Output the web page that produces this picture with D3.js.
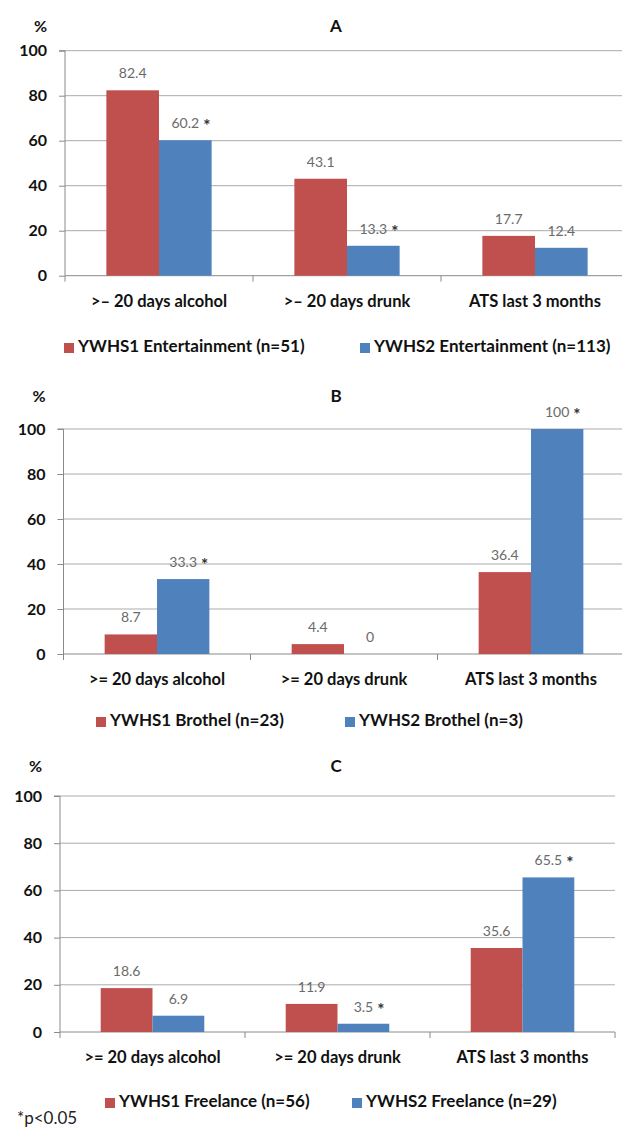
<!DOCTYPE html>
<html>
<head>
<meta charset="utf-8">
<script src="https://cdn.jsdelivr.net/npm/d3@7/dist/d3.min.js"></script>
<style>
  html, body { margin: 0; padding: 0; background: #fff; }
  svg { display: block; }
  text { font-family: Lato, "Open Sans", sans-serif; }
</style>
</head>
<body>
<svg id="chart" width="622" height="1127"></svg>
<script>
// ---------- data ----------
const categoriesA = [">\u2013 20 days alcohol", ">\u2013 20 days drunk", "ATS last 3 months"];
const categoriesBC = [">= 20 days alcohol", ">= 20 days drunk", "ATS last 3 months"];
const yTicks = [0, 20, 40, 60, 80, 100];

const seriesA = ["YWHS1 Entertainment (n=51)", "YWHS2 Entertainment (n=113)"];
const valuesA1 = [82.4, 43.1, 17.7];
const valuesA2 = [60.2, 13.3, 12.4];
const starsA2 = [true, true, false];

const seriesB = ["YWHS1 Brothel (n=23)", "YWHS2 Brothel (n=3)"];
const valuesB1 = [8.7, 4.4, 36.4];
const valuesB2 = [33.3, 0, 100];
const starsB2 = [true, false, true];

const seriesC = ["YWHS1 Freelance (n=56)", "YWHS2 Freelance (n=29)"];
const valuesC1 = [18.6, 11.9, 35.6];
const valuesC2 = [6.9, 3.5, 65.5];
const starsC2 = [false, true, true];

const panelTitles = ["A", "B", "C"];
const footnote = "*p<0.05";

// ---------- style ----------
const RED = "#C0504D", BLUE = "#4F81BD";
const GRID = "#ababab", AXIS = "#8a8a8a";

const svg = d3.select("#chart");

const panels = [
  { title: panelTitles[0], cats: categoriesA, series: seriesA, v1: valuesA1, v2: valuesA2, stars: starsA2,
    titleY: 28, top: 50.7, bottom: 275.7, left: 65, cw: 188, legY: 348, legX: [64, 360] },
  { title: panelTitles[1], cats: categoriesBC, series: seriesB, v1: valuesB1, v2: valuesB2, stars: starsB2,
    titleY: 398, top: 429, bottom: 654, left: 63.5, cw: 187, legY: 722, legX: [96, 345] },
  { title: panelTitles[2], cats: categoriesBC, series: seriesC, v1: valuesC1, v2: valuesC2, stars: starsC2,
    titleY: 768, top: 796, bottom: 1032, left: 60, cw: 185, legY: 1103, legX: [105, 352] }
];

panels.forEach(p => {
  const g = svg.append("g");
  const right = p.left + p.cw * p.cats.length;
  const x = d3.scaleBand().domain(p.cats).range([p.left, right]).padding(0);
  const xs = d3.scaleBand().domain([0, 1]).range([0, x.bandwidth()]).paddingInner(0).paddingOuter(0.786);
  const y = d3.scaleLinear().domain([0, 100]).range([p.bottom, p.top]);

  // gridlines
  g.append("g").selectAll("line").data(yTicks.filter(t => t > 0)).join("line")
    .attr("x1", p.left).attr("x2", right)
    .attr("y1", d => y(d)).attr("y2", d => y(d))
    .attr("stroke", GRID).attr("stroke-width", 1);

  // y axis
  const yAxis = d3.axisLeft(y).tickValues(yTicks).tickSize(6).tickPadding(12).tickFormat(d3.format("d"));
  const ya = g.append("g").attr("transform", `translate(${p.left},0)`).call(yAxis);
  ya.select(".domain").attr("stroke", AXIS).attr("d", `M-6,${p.top}H0V${p.bottom}`);
  ya.selectAll(".tick line").attr("stroke", AXIS);
  ya.selectAll(".tick text").attr("fill", "#111").style("font-size", "16px").style("font-weight", "bold")
    .style("font-family", "Lato, sans-serif");

  // x axis line + category separator ticks
  g.append("line").attr("x1", p.left).attr("x2", right).attr("y1", p.bottom).attr("y2", p.bottom)
    .attr("stroke", AXIS);
  const bounds = p.cats.map(c => x(c)).concat([right]);
  g.append("g").selectAll("line").data(bounds).join("line")
    .attr("x1", d => d).attr("x2", d => d).attr("y1", p.bottom).attr("y2", p.bottom + 6)
    .attr("stroke", AXIS);
  g.append("g").selectAll("text").data(p.cats).join("text")
    .attr("x", d => x(d) + x.bandwidth() / 2).attr("y", p.bottom + 27)
    .attr("text-anchor", "middle").attr("dominant-baseline", "middle")
    .style("font-size", "16.5px").style("font-weight", "bold").attr("fill", "#111")
    .text(d => d);

  // bars
  const rows = [];
  p.cats.forEach((c, i) => {
    rows.push({ c, s: 0, v: p.v1[i], star: false });
    rows.push({ c, s: 1, v: p.v2[i], star: p.stars[i] });
  });
  g.append("g").selectAll("rect").data(rows).join("rect")
    .attr("x", d => x(d.c) + xs(d.s)).attr("width", xs.bandwidth())
    .attr("y", d => y(d.v)).attr("height", d => y(0) - y(d.v))
    .attr("fill", d => d.s === 0 ? RED : BLUE);

  // data labels
  const lab = g.append("g").selectAll("g").data(rows).join("g")
    .attr("transform", d => `translate(${x(d.c) + xs(d.s) + xs.bandwidth() / 2},${y(d.v) - 12})`);
  lab.append("text").attr("text-anchor", "middle")
    .style("font-size", "14px").attr("fill", "#6a6a6a")
    .text(d => d3.format("")(d.v));
  lab.filter(d => d.star).each(function () {
    const t = d3.select(this).select("text").node();
    const w = t.getComputedTextLength();
    d3.select(this).append("text").attr("x", w / 2 + 4).attr("y", 4)
      .style("font-size", "17px").style("font-weight", "bold").attr("fill", "#333").text("*");
  });

  // title and %
  g.append("text").attr("x", 336).attr("y", p.titleY).attr("text-anchor", "middle")
    .attr("dominant-baseline", "middle").style("font-size", "17px").style("font-weight", "bold")
    .attr("fill", "#111").text(p.title);
  g.append("text").attr("x", p.left - 18).attr("y", p.titleY).attr("text-anchor", "end")
    .attr("dominant-baseline", "middle").style("font-size", "16px").style("font-weight", "bold")
    .attr("fill", "#111").text("%");

  // legend
  const leg = g.append("g").selectAll("g").data(p.series).join("g")
    .attr("transform", (d, i) => `translate(${p.legX[i]},${p.legY})`);
  leg.append("rect").attr("x", 0).attr("y", -5).attr("width", 10).attr("height", 10)
    .attr("fill", (d, i) => i === 0 ? RED : BLUE);
  leg.append("text").attr("x", 14).attr("y", 0).attr("dominant-baseline", "middle")
    .style("font-size", "17px").style("font-weight", "bold").attr("fill", "#111").text(d => d);
});

svg.append("text").attr("x", 17).attr("y", 1120).attr("dominant-baseline", "middle")
  .style("font-size", "17px").attr("fill", "#222").text(footnote);
</script>
</body>
</html>
